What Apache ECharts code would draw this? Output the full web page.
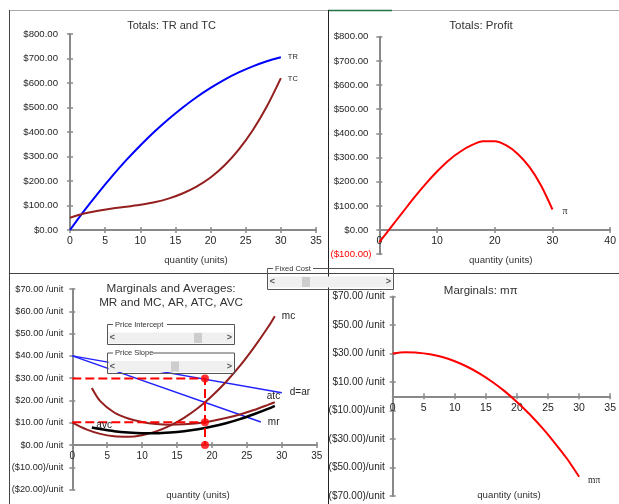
<!DOCTYPE html>
<html><head><meta charset="utf-8">
<script src="https://cdn.jsdelivr.net/npm/echarts@6/dist/echarts.min.js"></script>
<style>html,body{margin:0;padding:0;background:#fff}#c{width:619px;height:504px}</style>
</head><body><div id="c"></div>
<script>
// ---------- data ----------
const qTotals = [0, 2, 4, 6, 8, 10, 12, 14, 16, 18, 20, 22, 24, 26, 28, 30];
const trValues = [0, 78, 151, 220, 285, 345, 401, 452, 499, 542, 580, 614, 643, 668, 689, 705];
const tcValues = [50, 67, 79, 88, 95, 103, 113, 128, 149, 177, 214, 264, 328, 407, 504, 620];
const profitValues = [-50, 11, 72, 133, 190, 242, 288, 324, 351, 367, 367, 350, 315, 261, 185, 85];
const mProfitValues = [30, 30.8, 30.6, 29.5, 27.5, 24.6, 20.7, 15.9, 10.2, 3.6, -4.0, -12.5, -21.9, -32.3, -43.5, -56.5];

const qMC = [0, 2, 4, 6, 8, 10, 12, 14, 16, 18, 20, 22, 24, 26, 28, 29];
const mcValues = [10, 7.0, 5.0, 3.9, 3.7, 4.4, 6.1, 8.7, 12.2, 16.6, 22.0, 28.3, 35.5, 43.7, 52.7, 57.8];

const qAvg = [2.8, 4, 6, 8, 10, 12, 14, 16, 18, 20, 22, 24, 26, 28, 29];
const atcValues = [25.6, 19.7, 14.6, 11.9, 10.3, 9.4, 9.1, 9.3, 9.8, 10.8, 12.1, 13.7, 15.7, 18.0, 19.2];
const avcValues = [7.9, 7.2, 6.2, 5.6, 5.3, 5.3, 5.6, 6.2, 7.1, 8.3, 9.8, 11.6, 13.8, 16.2, 17.6];

const qDemand = [0, 30];
const arValues = [40, 23.5];
const qMR = [0, 27];
const mrValues = [40, 10.3];

const qStar = 19;
const priceStar = 29.8;
const atcStar = 10.2;

const tlXTicks = {min: 0, max: 35, interval: 5};
const trXTicks = {min: 0, max: 40, interval: 10};
const tlYTicks = {min: 0, max: 800, interval: 100};
const trYTicks = {min: -100, max: 800, interval: 100};
const blYTicks = {min: -20, max: 70, interval: 10};
const brYTicks = {min: -70, max: 70, interval: 20};

// ---------- helpers ----------
const SANS = '"Liberation Sans", Arial, sans-serif';
const SERIF = '"Liberation Serif", "Times New Roman", serif';
const AX = '#898989';
const TXT = '#262626';
const zip = (xs, ys) => xs.map((x, i) => [x, ys[i]]);
const money = v => '$' + v.toFixed(2);
const moneyNeg = v => v < 0 ? '($' + (-v).toFixed(2) + ')' : money(v) + '{h|)}';
const perUnit = v => v < 0 ? '($' + (-v).toFixed(2) + ')/unit' : '$' + v.toFixed(2) + ' /unit';

const grids = [
  {left: 70, top: 34, width: 246, height: 196},
  {left: 379.3, top: 36.7, width: 237.7, height: 217.5},
  {left: 72.3, top: 289, width: 244.4, height: 200.6},
  {left: 392.7, top: 296.5, width: 227, height: 199.5}
];
const yTicksOf = [tlYTicks, trYTicks, blYTicks, brYTicks];
// place the horizontal axis on the zero line of the value axis
function zeroOffset(g) {
  const t = yTicksOf[g];
  if (t.min >= 0) return 0;
  return -grids[g].height * (0 - t.min) / (t.max - t.min);
}

function axisPair(dim, grid, ticks, labelOpts) {
  const pos = dim === 'x' ? 'bottom' : 'left';
  const off = dim === 'x' ? zeroOffset(grid) : 0;
  const main = {
    type: 'value', gridIndex: grid, position: pos, offset: off,
    min: ticks.min, max: ticks.max, interval: ticks.interval,
    axisLine: {show: true, onZero: false, lineStyle: {color: AX, width: 2}},
    axisTick: {show: true, inside: false, length: 3, lineStyle: {color: AX, width: 1.5}},
    axisLabel: Object.assign({show: true, color: TXT, fontFamily: SANS}, labelOpts),
    splitLine: {show: false}
  };
  const sec = {
    type: 'value', gridIndex: grid, position: pos, offset: off,
    min: ticks.min, max: ticks.max, interval: ticks.interval,
    axisLine: {show: false, onZero: false},
    axisTick: {show: true, inside: true, length: 3, lineStyle: {color: AX, width: 1.5}},
    axisLabel: {show: false},
    splitLine: {show: false}
  };
  return [main, sec];
}

function lineSeries(name, xi, data, color, width, label) {
  const s = {
    type: 'line', name, xAxisIndex: xi, yAxisIndex: xi, data,
    smooth: 0.3, showSymbol: false, symbol: 'none', silent: true,
    lineStyle: {color, width}, z: 3
  };
  if (label) {
    s.endLabel = Object.assign({show: true, formatter: name, color: TXT, fontFamily: SANS}, label);
  }
  return s;
}

function txt(text, x, y, font, extra) {
  return Object.assign({type: 'text', x, y, z: 50, silent: true,
    style: {text, font, fill: '#333', align: 'center', verticalAlign: 'middle',
            textAlign: 'center', textVerticalAlign: 'middle'}}, extra || {});
}

function slider(x, y, w, h, label, labelW, sbY, sbH, thumbX) {
  const mid = sbY + sbH / 2;
  return [
    {type: 'rect', z: 100, silent: true, shape: {x: x + 0.5, y: y + 0.5, width: w, height: h}, style: {fill: 'none', stroke: '#555', lineWidth: 1}},
    {type: 'rect', z: 101, silent: true, shape: {x: x + 6, y: y - 4, width: labelW, height: 8}, style: {fill: '#fff'}},
    {type: 'text', z: 102, silent: true, x: x + 8, y: y + 0.5, style: {text: label, font: '7.5px ' + SANS, fill: '#333', verticalAlign: 'middle', textVerticalAlign: 'middle'}},
    {type: 'rect', z: 101, silent: true, shape: {x: x + 1.5, y: sbY, width: w - 2, height: sbH}, style: {fill: '#f0f0f0'}},
    {type: 'rect', z: 102, silent: true, shape: {x: thumbX, y: sbY + 0.5, width: 8, height: sbH - 1}, style: {fill: '#cdcdcd'}},
    {type: 'text', z: 103, silent: true, x: x + 5.5, y: mid, style: {text: '<', font: 'bold 9px ' + SANS, fill: '#555', align: 'center', verticalAlign: 'middle', textAlign: 'center', textVerticalAlign: 'middle'}},
    {type: 'text', z: 103, silent: true, x: x + w - 4.5, y: mid, style: {text: '>', font: 'bold 9px ' + SANS, fill: '#555', align: 'center', verticalAlign: 'middle', textAlign: 'center', textVerticalAlign: 'middle'}}
  ];
}

function hline(x1, x2, y, color, wdt) {
  return {type: 'line', z: 1, silent: true, shape: {x1, y1: y, x2, y2: y}, style: {stroke: color, lineWidth: wdt || 1}};
}
function vline(x, y1, y2, color, wdt) {
  return {type: 'line', z: 1, silent: true, shape: {x1: x, y1, x2: x, y2}, style: {stroke: color, lineWidth: wdt || 1}};
}

// ---------- option ----------
const RED = '#ff0000';
const MAROON = '#931f1f';
const BLUE = '#0000ff';
const BLUE2 = '#2222ff';

const option = {
  animation: false,
  backgroundColor: '#fff',
  grid: grids,
  xAxis: [
    ...axisPair('x', 0, tlXTicks, {margin: 6, fontSize: 10.5}),
    ...axisPair('x', 1, trXTicks, {margin: 6, fontSize: 10.5}),
    ...axisPair('x', 2, tlXTicks, {margin: 6, fontSize: 10}),
    ...axisPair('x', 3, tlXTicks, {margin: 6, fontSize: 10.5})
  ],
  yAxis: [
    ...axisPair('y', 0, tlYTicks, {margin: 12, fontSize: 9.6, formatter: money}),
    ...axisPair('y', 1, trYTicks, {margin: 7.8, fontSize: 9.6, formatter: moneyNeg,
      rich: {h: {color: 'rgba(0,0,0,0)', fontSize: 9.6, fontFamily: SANS}},
      color: v => (String(v).charAt(0) === '-' || String(v).charAt(0) === '(') ? RED : TXT}),
    ...axisPair('y', 2, blYTicks, {margin: 9, fontSize: 9.2, formatter: perUnit}),
    ...axisPair('y', 3, brYTicks, {margin: 8, fontSize: 10, formatter: perUnit})
  ],
  series: [
    // Totals: TR and TC
    lineSeries('TR', 0, zip(qTotals, trValues), BLUE, 2, {fontSize: 7.5, distance: 7}),
    lineSeries('TC', 0, zip(qTotals, tcValues), MAROON, 2, {fontSize: 7.5, distance: 7, offset: [0, 1]}),
    // Totals: Profit
    lineSeries('π', 2, zip(qTotals, profitValues), RED, 2, {fontSize: 10, fontFamily: SERIF, distance: 10, offset: [0, 2]}),
    // Marginals and averages
    lineSeries('d=ar', 4, zip(qDemand, arValues), BLUE2, 1.5, {fontSize: 10, distance: 8}),
    lineSeries('mr', 4, zip(qMR, mrValues), BLUE2, 1.5, {fontSize: 10, distance: 7}),
    lineSeries('mc', 4, zip(qMC, mcValues), MAROON, 2, {fontSize: 10, distance: 7}),
    lineSeries('atc', 4, zip(qAvg, atcValues), MAROON, 2, {fontSize: 10, distance: 0, offset: [-8, -6]}),
    Object.assign(lineSeries('avc', 4, zip(qAvg, avcValues), '#000000', 2.5, null), {
      markPoint: {
        silent: true, symbol: 'circle', symbolSize: 1,
        itemStyle: {color: 'rgba(0,0,0,0)'},
        label: {show: true, formatter: 'avc', position: 'right', distance: 4, offset: [0, -2],
                color: TXT, fontSize: 10, fontFamily: SANS},
        data: [{coord: [qAvg[0], avcValues[0]]}]
      }
    }),
    {
      type: 'line', name: 'price', xAxisIndex: 4, yAxisIndex: 4, silent: true,
      data: [[0, priceStar], [qStar, priceStar], [qStar, 0]],
      showSymbol: false, symbol: 'none', z: 4,
      lineStyle: {color: RED, width: 2, type: [9, 4]}
    },
    {
      type: 'line', name: 'atcStar', xAxisIndex: 4, yAxisIndex: 4, silent: true,
      data: [[0, atcStar], [qStar, atcStar]],
      showSymbol: false, symbol: 'none', z: 4,
      lineStyle: {color: RED, width: 2, type: [9, 4]}
    },
    {
      type: 'scatter', name: 'dots', xAxisIndex: 4, yAxisIndex: 4, silent: true,
      data: [[qStar, priceStar], [qStar, atcStar], [qStar, 0]],
      symbolSize: 8, itemStyle: {color: RED}, z: 5
    },
    // Marginals: m pi
    lineSeries('mπ', 6, zip(qTotals, mProfitValues), RED, 2, {fontSize: 9.5, fontFamily: SERIF, distance: 9, offset: [0, 4]})
  ],
  graphic: {elements: [
    // sheet grid / panel borders
    hline(9, 619, 10.5, '#a8a8a8'),
    hline(328, 392, 10.5, '#217346', 1.5),
    vline(9.5, 10, 504, '#444'),
    vline(328.5, 10, 504, '#222'),
    hline(9, 619, 273.5, '#444'),
    // titles
    txt('Totals: TR and TC', 171.5, 26, '11px ' + SANS),
    txt('Totals: Profit', 481, 26, '11.5px ' + SANS),
    txt('Marginals and Averages:', 171, 289, '11.7px ' + SANS),
    txt('MR and MC, AR, ATC, AVC', 171, 302.7, '11.7px ' + SANS),
    txt('Marginals: mπ', 480.7, 290.7, '11.5px ' + SANS),
    // axis names
    txt('quantity (units)', 196, 260, '9.7px ' + SANS),
    txt('quantity (units)', 500.7, 260, '9.7px ' + SANS),
    txt('quantity (units)', 198, 495.7, '9.7px ' + SANS),
    txt('quantity (units)', 509, 495.7, '9.7px ' + SANS),
    // form controls
    ...slider(267, 268, 126, 21, 'Fixed Cost', 40, 276.5, 11, 302),
    ...slider(107, 324, 127, 20, 'Price Intercept', 54, 332.5, 11, 194),
    ...slider(107, 352.5, 127, 20.5, 'Price Slope', 40, 361, 11, 171)
  ]}
};

const chart = echarts.init(document.getElementById('c'), null, {renderer: 'canvas'});
chart.setOption(option);
</script>
</body></html>
